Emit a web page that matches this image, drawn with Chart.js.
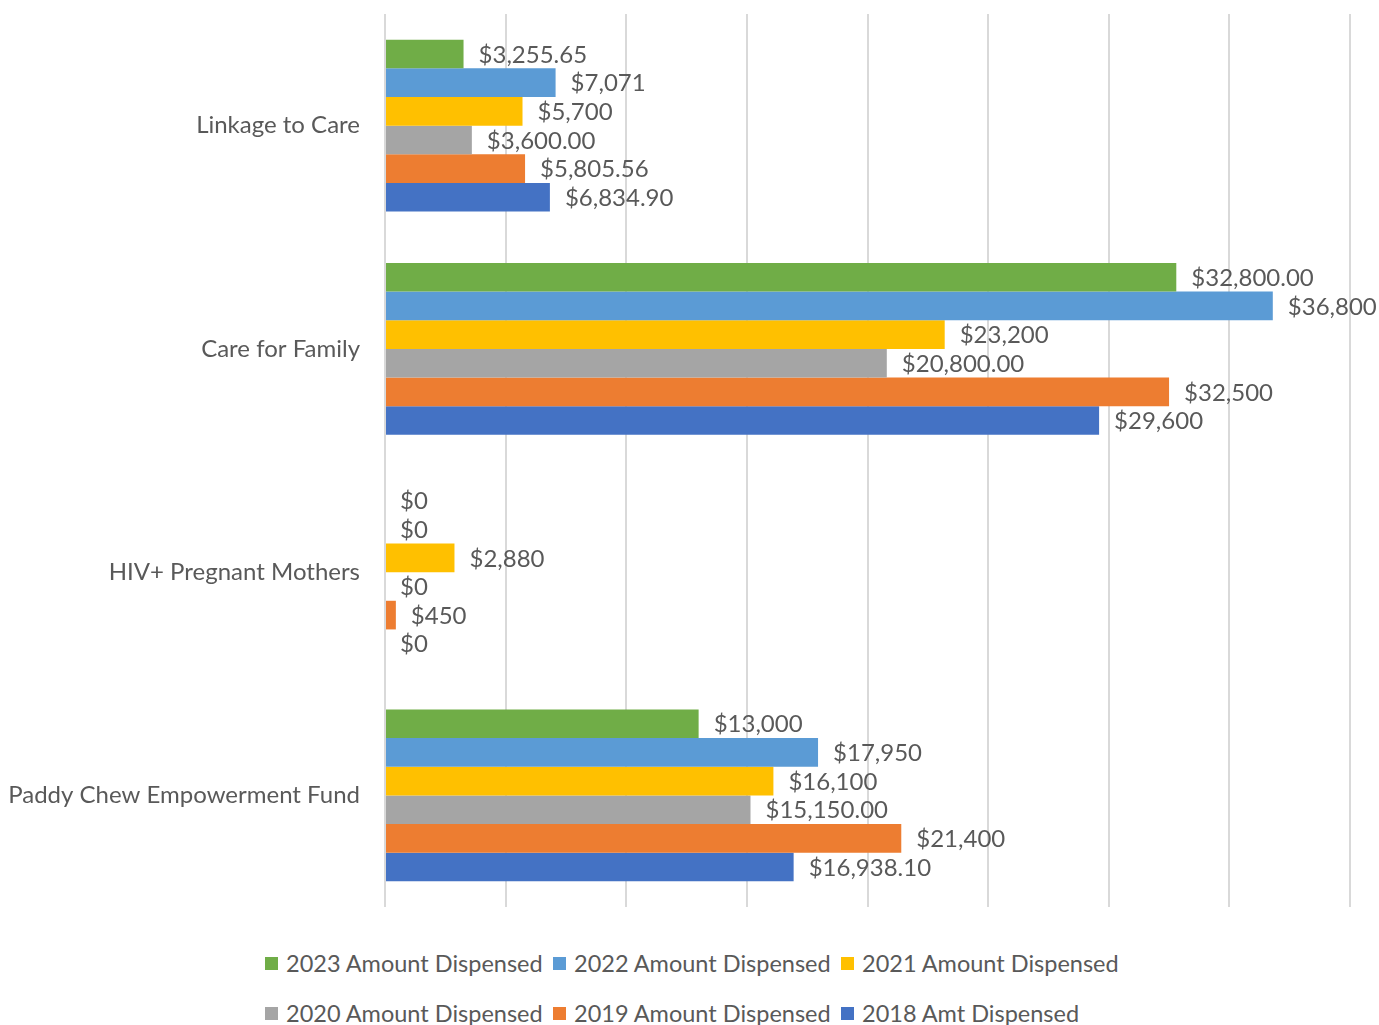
<!DOCTYPE html>
<html>
<head>
<meta charset="utf-8">
<script src="https://cdn.jsdelivr.net/npm/chart.js@4.4.1/dist/chart.umd.min.js"></script>
<style>
  html, body { margin:0; padding:0; background:#fff; }
  body { width:1379px; height:1025px; overflow:hidden; font-family: Lato, "Open Sans", sans-serif; }
  #chart { position:absolute; left:0; top:0; }
  #legend { position:absolute; left:265px; top:938px; display:grid; grid-template-columns:288px 288px 288px; }
  .lg-item { display:flex; align-items:center; height:50px; font-size:23.5px; color:#595959; white-space:nowrap; }
  .lg-box { width:13px; height:13px; margin-right:8px; flex:none; }
</style>
</head>
<body>
<canvas id="chart" width="1379" height="930"></canvas>
<div id="legend"></div>
<script>
'use strict';
// categories, top to bottom
const categories = ['Linkage to Care', 'Care for Family', 'HIV+ Pregnant Mothers', 'Paddy Chew Empowerment Fund'];

// series values (per category)
const amt2023 = [3255.65, 32800, 0, 13000];
const amt2022 = [7071, 36800, 0, 17950];
const amt2021 = [5700, 23200, 2880, 16100];
const amt2020 = [3600, 20800, 0, 15150];
const amt2019 = [5805.56, 32500, 450, 21400];
const amt2018 = [6834.90, 29600, 0, 16938.10];

// value labels as printed on the chart (formats differ per cell)
const txt2023 = ['$3,255.65', '$32,800.00', '$0', '$13,000'];
const txt2022 = ['$7,071', '$36,800', '$0', '$17,950'];
const txt2021 = ['$5,700', '$23,200', '$2,880', '$16,100'];
const txt2020 = ['$3,600.00', '$20,800.00', '$0', '$15,150.00'];
const txt2019 = ['$5,805.56', '$32,500', '$450', '$21,400'];
const txt2018 = ['$6,834.90', '$29,600', '$0', '$16,938.10'];

const seriesNames = ['2023 Amount Dispensed', '2022 Amount Dispensed', '2021 Amount Dispensed',
                     '2020 Amount Dispensed', '2019 Amount Dispensed', '2018 Amt Dispensed'];
const seriesColors = ['#70AD47', '#5B9BD5', '#FFC000', '#A5A5A5', '#ED7D31', '#4472C4'];

// x axis range / grid
const xMax = 40000, xStep = 5000;

const TEXT = '#595959';
const FONT = 'Lato, "Open Sans", sans-serif';

const values = [amt2023, amt2022, amt2021, amt2020, amt2019, amt2018];
const texts  = [txt2023, txt2022, txt2021, txt2020, txt2019, txt2018];

const datasets = seriesNames.map((name, i) => ({
  label: name,
  data: values[i],
  valueText: texts[i],
  backgroundColor: seriesColors[i],
  borderWidth: 0,
  categoryPercentage: 0.77,
  barPercentage: 1.0
}));

// draws the "$..." label just past each bar end
const valueLabels = {
  id: 'valueLabels',
  afterDatasetsDraw(chart) {
    const ctx = chart.ctx;
    ctx.save();
    ctx.font = '24px ' + FONT;
    ctx.fillStyle = TEXT;
    ctx.textAlign = 'left';
    ctx.textBaseline = 'middle';
    chart.data.datasets.forEach((ds, i) => {
      chart.getDatasetMeta(i).data.forEach((bar, j) => {
        ctx.fillText(ds.valueText[j], bar.x + 15, bar.y + 1);
      });
    });
    ctx.restore();
  }
};

new Chart(document.getElementById('chart'), {
  type: 'bar',
  data: { labels: categories, datasets },
  plugins: [valueLabels],
  options: {
    indexAxis: 'y',
    responsive: false,
    animation: false,
    devicePixelRatio: 1,
    layout: { padding: { left: 10, right: 29, top: 14, bottom: 23 } },
    plugins: { legend: { display: false }, tooltip: { enabled: false } },
    scales: {
      x: {
        min: 0, max: xMax,
        ticks: { display: false, stepSize: xStep },
        grid: { color: '#D9D9D9', lineWidth: 2, drawTicks: false },
        border: { display: false },
        afterFit: s => { s.height = 0; s.paddingLeft = 0; s.paddingRight = 0; }
      },
      y: {
        ticks: { color: TEXT, font: { family: FONT, size: 24 }, padding: 25 },
        grid: { display: false, drawTicks: false },
        border: { display: false },
        afterFit: s => { s.width = 375; s.paddingTop = 0; s.paddingBottom = 0; }
      }
    }
  }
});

// legend laid out in 3 columns like the original
const legendEl = document.getElementById('legend');
legendEl.innerHTML = seriesNames.map((n, i) =>
  `<div class="lg-item"><span class="lg-box" style="background:${seriesColors[i]}"></span>${n}</div>`).join('');
</script>
</body>
</html>
